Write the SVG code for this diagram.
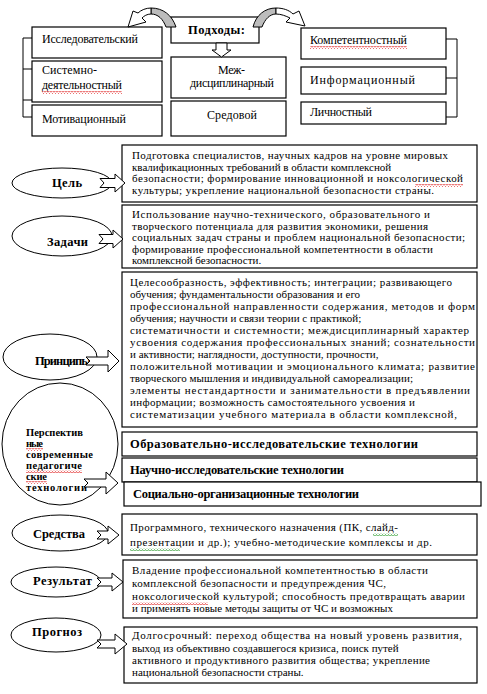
<svg xmlns="http://www.w3.org/2000/svg" width="487" height="694" viewBox="0 0 487 694" font-family="Liberation Serif, Times New Roman, DejaVu Serif, serif">
<style>
.bx{fill:#fff;stroke:#000;stroke-width:1.2}
.el{fill:#fff;stroke:#000;stroke-width:1}
.ar{fill:#fff;stroke:#000;stroke-width:1;stroke-linejoin:miter}
.gr{fill:#bcbcbc;stroke:#000;stroke-width:1}
.ln{fill:none;stroke:#000;stroke-width:1}
text{font-family:"Liberation Serif","Times New Roman","DejaVu Serif",serif;fill:#000}
.t{font-size:11px}
.tt{font-size:12px}
.b{font-size:12.5px;font-weight:bold}
.bs{font-size:10.5px;font-weight:bold}
.bt{font-size:12.5px;font-weight:bold}
</style>
<defs>
<pattern id="wr" width="3" height="3" patternUnits="userSpaceOnUse"><path d="M0 2.5 L1.5 0.5 L3 2.5" fill="none" stroke="#e02020" stroke-width="0.8"/></pattern>
<pattern id="wg" width="3" height="3" patternUnits="userSpaceOnUse"><path d="M0 2.5 L1.5 0.5 L3 2.5" fill="none" stroke="#2a9a2a" stroke-width="0.8"/></pattern>
</defs>
<rect width="487" height="694" fill="#fff"/>

<!-- Top: approaches -->
<g id="n-podhody">
<rect class="bx" x="171" y="17" width="88" height="26"/>
<text class="b" x="188" y="34" textLength="57">Подходы:</text>
</g>
<g id="n-issled">
<rect class="bx" x="32" y="27" width="130" height="31"/>
<text class="tt" x="42" y="43" textLength="96">Исследовательский</text>
</g>
<g id="n-sistemno">
<rect class="bx" x="32" y="61" width="130" height="41"/>
<text class="tt" x="42" y="74" textLength="55">Системно-</text>
<text class="tt" x="42" y="89" textLength="80">деятельностный</text>
<rect x="42" y="91" width="80" height="3" fill="url(#wr)"/>
</g>
<g id="n-motiv">
<rect class="bx" x="32" y="105" width="130" height="31"/>
<text class="tt" x="42" y="123" textLength="84">Мотивационный</text>
</g>
<g id="n-mezh">
<rect class="bx" x="171" y="57" width="115" height="41"/>
<text class="tt" x="218" y="74" textLength="27">Меж-</text>
<text class="tt" x="190" y="87" textLength="84">дисциплинарный</text>
</g>
<g id="n-sredovoy">
<rect class="bx" x="171" y="101" width="115" height="35"/>
<text class="tt" x="207" y="119" textLength="50">Средовой</text>
</g>
<g id="n-kompet">
<rect class="bx" x="301" y="28" width="145" height="31"/>
<text class="tt" x="310" y="44" textLength="97">Компетентностный</text>
<rect x="310" y="46" width="97" height="3" fill="url(#wr)"/>
</g>
<g id="n-inform">
<rect class="bx" x="301" y="67" width="145" height="27"/>
<text class="tt" x="310" y="84" textLength="105">Информационный</text>
</g>
<g id="n-lichn">
<rect class="bx" x="301" y="102" width="145" height="22"/>
<text class="tt" x="310" y="116" textLength="62">Личностный</text>
</g>

<!-- Цель -->
<g id="n-cel">
<ellipse class="el" cx="62" cy="183" rx="50" ry="15"/>
<text class="b" x="52" y="187" textLength="30">Цель</text>
<rect class="bx" x="122" y="145" width="355" height="57"/>
<text class="t" x="132" y="159" textLength="316">Подготовка специалистов,  научных кадров на уровне мировых</text>
<text class="t" x="132" y="170.5">квалификационных  требований в области комплексной</text>
<text class="t" x="132" y="182" textLength="331">безопасности;  формирование инновационной  и ноксологической</text>
<text class="t" x="132" y="193.5" textLength="302">культуры; укрепление  национальной  безопасности  страны.</text>
<rect x="415" y="184" width="48" height="3" fill="url(#wr)"/>
</g>

<!-- Задачи -->
<g id="n-zadachi">
<ellipse class="el" cx="62" cy="236" rx="50" ry="20"/>
<text class="b" x="47" y="246" textLength="41">Задачи</text>
<rect class="bx" x="122" y="205" width="355" height="63"/>
<text class="t" x="132" y="218" textLength="298">Использование научно-технического,  образовательного и</text>
<text class="t" x="132" y="229.5" textLength="296">творческого потенциала  для развития экономики, решения</text>
<text class="t" x="132" y="241" textLength="333">социальных  задач страны и проблем национальной  безопасности;</text>
<text class="t" x="132" y="252.5" textLength="301">формирование профессиональной  компетентности  в области</text>
<text class="t" x="132" y="264">комплексной  безопасности.</text>
</g>

<!-- Принципы -->
<g id="n-principy">
<ellipse class="el" cx="50" cy="357" rx="47" ry="23"/>
<text class="b" x="35" y="365" textLength="56">Принципы</text>
<rect class="bx" x="122" y="272" width="355" height="155"/>
<text class="t" x="130" y="286" textLength="322">Целесообразность,  эффективность;  интеграции;  развивающего</text>
<text class="t" x="130" y="298">обучения; фундаментальности  образования и его</text>
<text class="t" x="130" y="310" textLength="345">профессиональной  направленности  содержания,  методов и форм</text>
<text class="t" x="130" y="322">обучения;  научности  и связи теории с практикой;</text>
<text class="t" x="130" y="334" textLength="339">систематичности  и системности;  междисциплинарный  характер</text>
<text class="t" x="130" y="346" textLength="345">усвоения содержания профессиональных  знаний;  сознательности</text>
<text class="t" x="130" y="358">и активности;  наглядности,  доступности,  прочности,</text>
<text class="t" x="130" y="370" textLength="345">положительной  мотивации и эмоционального  климата; развитие</text>
<text class="t" x="130" y="382" textLength="283">творческого мышления и индивидуальной  самореализации;</text>
<text class="t" x="130" y="394" textLength="340">элементы нестандартности  и занимательности в предъявлении</text>
<text class="t" x="130" y="406" textLength="285">информации;  возможность самостоятельного усвоения и</text>
<text class="t" x="130" y="418" textLength="327">систематизации  учебного материала в области комплексной,</text>
</g>

<!-- Перспективные технологии -->
<g id="n-tech">
<ellipse class="el" cx="60" cy="444" rx="58" ry="61"/>
<text class="bs" x="26" y="436" textLength="57">Перспектив</text>
<text class="bs" x="26" y="447" textLength="17">ные</text>
<text class="bs" x="26" y="458" textLength="67">современные</text>
<text class="bs" x="26" y="469" textLength="56">педагогиче</text>
<text class="bs" x="26" y="480" textLength="21">ские</text>
<text class="bs" x="26" y="491" textLength="61">технологии</text>
<rect x="26" y="448" width="17" height="3" fill="url(#wr)"/>
<rect x="26" y="470" width="56" height="3" fill="url(#wr)"/>
<rect x="26" y="481" width="21" height="3" fill="url(#wr)"/>
</g>
<g id="n-tech1">
<rect class="bx" x="122" y="432" width="355" height="24"/>
<text class="bt" x="130" y="448" textLength="288">Образовательно-исследовательские технологии</text>
</g>
<g id="n-tech2">
<rect class="bx" x="122" y="458" width="355" height="24"/>
<text class="bt" x="130" y="474" textLength="214">Научно-исследовательские  технологии</text>
</g>
<g id="n-tech3">
<rect class="bx" x="124" y="482" width="357" height="24"/>
<text class="bt" x="133" y="498" textLength="226">Социально-организационные технологии</text>
</g>

<!-- Средства -->
<g id="n-sredstva">
<ellipse class="el" cx="60" cy="533" rx="48" ry="18"/>
<text class="b" x="33" y="538" textLength="52">Средства</text>
<rect class="bx" x="122" y="514" width="355" height="41"/>
<text class="t" x="130" y="531" textLength="268">Программного, технического  назначения  (ПК, слайд-</text>
<text class="t" x="130" y="546" textLength="302">презентации  и др.); учебно-методические  комплексы и др.</text>
<rect x="373" y="533" width="25" height="3" fill="url(#wg)"/>
<rect x="130" y="548" width="50" height="3" fill="url(#wg)"/>
</g>

<!-- Результат -->
<g id="n-result">
<ellipse class="el" cx="56" cy="582" rx="45" ry="15"/>
<text class="b" x="33" y="585" textLength="59">Результат</text>
<rect class="bx" x="123" y="560" width="354" height="58"/>
<text class="t" x="132" y="574" textLength="296">Владение профессиональной  компетентностью  в области</text>
<text class="t" x="132" y="587" textLength="254">комплексной безопасности  и предупреждения  ЧС,</text>
<text class="t" x="132" y="600" textLength="333">ноксологической культурой; способность  предотвращать  аварии</text>
<text class="t" x="132" y="612">и применять новые методы защиты от ЧС и возможных</text>
<rect x="132" y="602" width="76" height="3" fill="url(#wr)"/>
</g>

<!-- Прогноз -->
<g id="n-prognoz">
<ellipse class="el" cx="56" cy="635" rx="45" ry="17"/>
<text class="b" x="32" y="636" textLength="50">Прогноз</text>
<rect class="bx" x="124" y="627" width="353" height="56"/>
<text class="t" x="132" y="639" textLength="330">Долгосрочный:  переход  общества на новый уровень развития,</text>
<text class="t" x="132" y="652">выход из объективно  создавшегося кризиса,  поиск путей</text>
<text class="t" x="132" y="664" textLength="298">активного и продуктивного развития общества;  укрепление</text>
<text class="t" x="132" y="676">национальной  безопасности  страны.</text>
</g>

<!-- Connectors -->
<g id="connectors">
<path class="ln" d="M32 38 H23 V117 H32 M23 69 H32 M23 100 H32"/>
<path class="ln" d="M446 39 H457 V117 H446 M457 78 H446"/>
<path class="gr" d="M151 8 C163 8 172 15 176 27 L166 27 C163 19 158 14 151 14 Z"/>
<path class="ar" d="M151 8 C146 8 141 10 138 13 L133 11 L128 27 L146 22 L142 18 C144 16 147 14 151 14 Z"/>
<path class="gr" d="M253 27 C256 15 265 8 276 8 L276 14 C270 14 265 19 262 27 Z"/>
<path class="ar" d="M276 8 C283 8 289 10 293 14 L299 11 L305 26 L286 22 L290 18 C286 16 281 14 276 14 Z"/>
<path class="ar" d="M216 43 L227 43 L227 50 L231 50 L221.5 57 L212 50 L216 50 Z"/>
<polygon class="ar" points="100,178.5 115,178.5 115,174 125,183 115,192 115,187.5 100,187.5 104,183"/>
<polygon class="ar" points="99,234.5 113,234.5 113,230 123,239 113,248 113,243.5 99,243.5 103,239"/>
<polygon class="ar" points="86,357 108,357 108,350 119,361 108,372 108,365 86,365 90,361"/>
<polygon class="ar" points="84,479 106,479 106,472 118,483 106,494 106,487 84,487 88,483"/>
<polygon class="ar" points="97,531 108,531 108,526 119,535 108,544 108,539 97,539 101,535"/>
<polygon class="ar" points="97,578 112,578 112,573 123,582 112,591 112,586 97,586 101,582"/>
<polygon class="ar" points="97,640 115,640 115,634 127,644 115,654 115,648 97,648 101,644"/>
</g>
</svg>
